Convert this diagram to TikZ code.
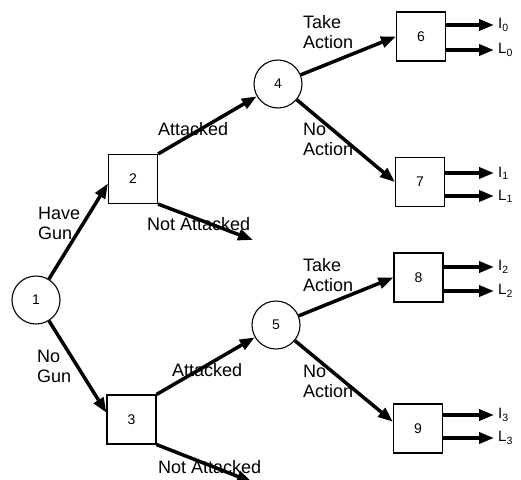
\documentclass[tikz,border=0pt]{standalone}
\usepackage{fontspec}
\setmainfont{Liberation Sans}
\usetikzlibrary{arrows.meta,calc}

\begin{document}
\begin{tikzpicture}[x=1pt, y=-1pt,
    chance/.style={circle, draw, line width=1.1pt, minimum size=48pt, inner sep=0pt,
        font=\fontsize{14}{16}\selectfont},
    decision/.style={rectangle, draw, line width=1.1pt, minimum size=49pt, inner sep=0pt,
        font=\fontsize{14}{16}\selectfont},
    branch/.style={line width=3.5pt, -{Triangle[length=15pt,width=11pt]}},
    lbl/.style={anchor=north west, inner sep=0pt, align=left,
        font=\fontsize{18}{20}\selectfont},
    outcome/.style={anchor=west, inner sep=4pt, font=\fontsize{15}{18}\selectfont}]
    \useasboundingbox (0,0) rectangle (521,479);
    \clip (0,0) rectangle (521,479);

    % Chance and decision nodes
    \node[chance]   (n1) at (36,300)     {1};
    \node[decision] (n2) at (133,179)    {2};
    \node[decision] (n3) at (131.5,419.5) {3};
    \node[chance]   (n4) at (278,84)     {4};
    \node[chance]   (n5) at (276,325)    {5};
    \node[decision] (n6) at (421,36.5)   {6};
    \node[decision] (n7) at (420,182)    {7};
    \node[decision] (n8) at (418.5,277.5) {8};
    \node[decision] (n9) at (418,428.5)  {9};

    % Loose ends (not attacked)
    \coordinate (na) at (253,240);
    \coordinate (nb) at (252,482);

    % Branches
    \draw[branch] (n1) -- (n2.190);
    \draw[branch] (n1) -- (n3.165);
    \draw[branch] (n2.north east) -- (n4);
    \draw[branch] (n2.south east) -- (na);
    \draw[branch] (n3.north east) -- (n5);
    \draw[branch] (n3.south east) -- (nb);
    \draw[branch] (n4) -- (n6.west);
    \draw[branch] (n4) -- (n7.west);
    \draw[branch] (n5) -- (n8.west);
    \draw[branch] (n5) -- (n9.165);

    % Branch labels
    \node[lbl] (gun)    at (38,207)  {Have\\Gun};
    \node[lbl] (nogun)  at (37,350)  {No\\Gun};
    \node[lbl] (att2)   at (158,122) {Attacked};
    \node[lbl] (natt2)  at (147,217) {Not Attacked};
    \node[lbl] (att3)   at (172,363) {Attacked};
    \node[lbl] (natt3)  at (158,460) {Not Attacked};
    \node[lbl] (take4)  at (303,15)  {Take\\Action};
    \node[lbl] (noact4) at (303,123) {No\\Action};
    \node[lbl] (take5)  at (303,258) {Take\\Action};
    \node[lbl] (noact5) at (303,365) {No\\Action};

    % Outcomes
    \foreach \b/\i/\yu/\yl in {6/0/25/50, 7/1/173/196, 8/2/267/291, 9/3/415/438} {
        \node[outcome] (i\i) at (494,\yu) {I\textsubscript{\i}};
        \node[outcome] (l\i) at (494,\yl) {L\textsubscript{\i}};
        \draw[branch] (n\b.east |- i\i.west) -- (i\i.west);
        \draw[branch] (n\b.east |- l\i.west) -- (l\i.west);
    }

\end{tikzpicture}
\end{document}
